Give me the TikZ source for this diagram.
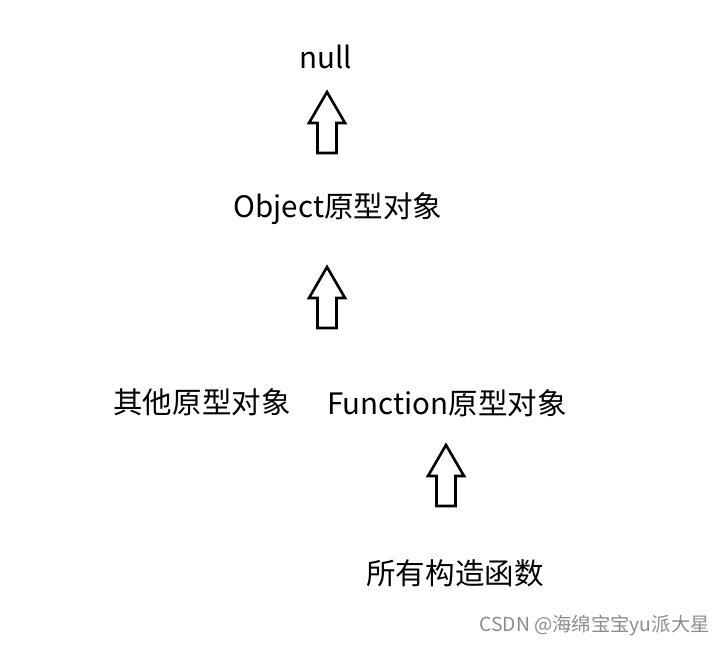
\documentclass[tikz,border=0pt]{standalone}
\usepackage{fontspec}
\setmainfont{Noto Sans CJK SC}
\usetikzlibrary{positioning}

\tikzset{
  label text/.style={font=\fontsize{16.8}{20}\selectfont, inner sep=0pt},
  mark text/.style={font=\fontsize{11}{13}\selectfont, text=black!45, inner sep=0pt},
  blockarrow/.pic={
    \draw[line width=1.5pt, fill=white, line join=miter]
      (0,0) -- (18,31) -- (9.5,31) -- (9.5,61) -- (-9.5,61)
      -- (-9.5,31) -- (-18,31) -- cycle;
  }
}

\begin{document}
\begin{tikzpicture}[x=0.02cm, y=-0.02cm]
  \useasboundingbox (0,0) rectangle (726,646);

  \node[label text] (null) at (326,57) {null};
  \node[label text] (objproto) at (338,209) {Object原型对象};
  \node[label text] (otherproto) at (202,402) {其他原型对象};
  \node[label text] (funcproto) at (447,403) {Function原型对象};
  \node[label text] (ctors) at (455,573) {所有构造函数};

  \pic at (327,92) {blockarrow};
  \pic at (327,267) {blockarrow};
  \pic at (446,445) {blockarrow};

  \node[mark text, anchor=east] (wmark) at (710,626) {CSDN @海绵宝宝yu派大星};
\end{tikzpicture}
\end{document}
